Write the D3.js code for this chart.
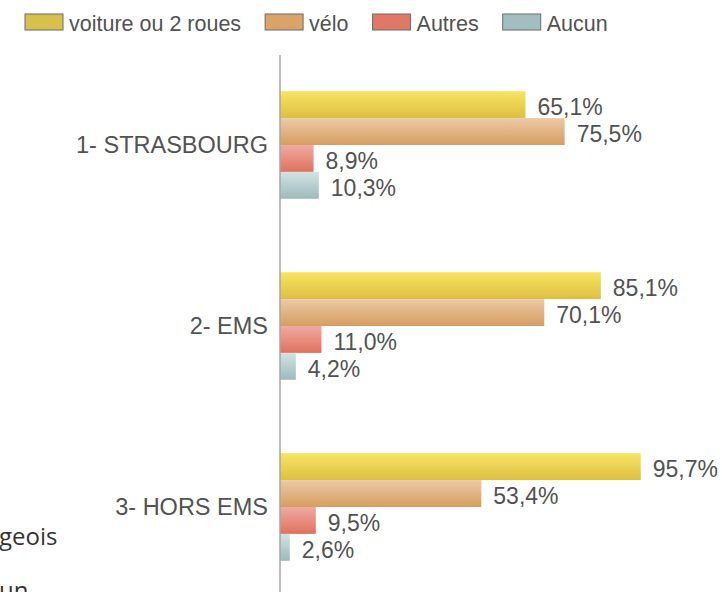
<!DOCTYPE html>
<html>
<head>
<meta charset="utf-8">
<script src="https://cdn.jsdelivr.net/npm/d3@7"></script>
<style>
  body { margin: 0; background: #fff; }
  svg { display: block; }
</style>
</head>
<body>
<svg id="chart" width="722" height="592"></svg>
<script>
// Data
var categories = ["1- STRASBOURG", "2- EMS", "3- HORS EMS"];
var series = ["voiture ou 2 roues", "vélo", "Autres", "Aucun"];
var values = {
  "voiture ou 2 roues": [65.1, 85.1, 95.7],
  "vélo": [75.5, 70.1, 53.4],
  "Autres": [8.9, 11.0, 9.5],
  "Aucun": [10.3, 4.2, 2.6]
};
// stray fragments cut off at the left edge of the original
var strayText = ["geois", "un"];

var colors = {
  "voiture ou 2 roues": {top: "#f9e462", bottom: "#dcbf42", flat: "#d8c04c"},
  "vélo": {top: "#ebcaa6", bottom: "#d79d60", flat: "#d9a469"},
  "Autres": {top: "#eeaba3", bottom: "#df725c", flat: "#e07866"},
  "Aucun": {top: "#d3e3e3", bottom: "#9dbabd", flat: "#a3bec0"}
};

function fmt(v) {
  return v.toFixed(1).replace(".", ",") + "%";
}

function renderChart() {
  var svg = d3.select("#chart");
  var textColor = "#525252";
  var font = "'Liberation Sans', Arial, sans-serif";

  var defs = svg.append("defs");
  series.forEach(function(s, i) {
    var grad = defs.append("linearGradient")
      .attr("id", "grad" + i)
      .attr("x1", 0).attr("y1", 0).attr("x2", 0).attr("y2", 1);
    grad.append("stop").attr("offset", "0%").attr("stop-color", colors[s].top);
    grad.append("stop").attr("offset", "100%").attr("stop-color", colors[s].bottom);
  });

  var x = d3.scaleLinear().domain([0, 100]).range([280, 657]);
  var y0 = d3.scaleBand().domain(categories).range([54.5, 597.5]);
  var y1 = d3.scaleBand().domain(series)
    .range([0, y0.bandwidth()])
    .paddingInner(0)
    .paddingOuter(1.365);

  var groups = svg.append("g").selectAll("g")
    .data(categories)
    .join("g")
    .attr("transform", function(c) { return "translate(0," + y0(c) + ")"; });

  series.forEach(function(s, si) {
    groups.append("rect")
      .attr("x", x(0))
      .attr("y", y1(s))
      .attr("width", function(c, ci) { return x(values[s][ci]) - x(0); })
      .attr("height", y1.bandwidth())
      .attr("fill", "url(#grad" + si + ")");

    groups.append("text")
      .attr("x", function(c, ci) { return x(values[s][ci]) + 12; })
      .attr("y", y1(s) + y1.bandwidth() / 2)
      .attr("dy", "0.47em")
      .attr("font-family", font)
      .attr("font-size", 23)
      .attr("fill", textColor)
      .text(function(c, ci) { return fmt(values[s][ci]); });
  });

  // category axis
  var yAxis = svg.append("g")
    .attr("transform", "translate(" + x(0) + ",0)")
    .call(d3.axisLeft(y0).tickSize(0).tickPadding(12));
  yAxis.select(".domain")
    .attr("d", "M0,55V600")
    .attr("stroke", "#a6a6a6")
    .attr("stroke-width", 1.5);
  yAxis.selectAll("text")
    .attr("font-family", font)
    .attr("font-size", 23.5)
    .attr("fill", textColor);

  // legend along the top
  var legend = svg.append("g").attr("transform", "translate(25,14)");
  var lx = 0;
  series.forEach(function(s) {
    var item = legend.append("g").attr("transform", "translate(" + lx + ",0)");
    item.append("rect")
      .attr("width", 38).attr("height", 16)
      .attr("fill", colors[s].flat)
      .attr("stroke", "#6b6b6b")
      .attr("stroke-width", 1);
    var t = item.append("text")
      .attr("x", 44).attr("y", 17)
      .attr("font-family", font)
      .attr("font-size", 21.5)
      .attr("fill", textColor)
      .text(s);
    lx += 44 + t.node().getComputedTextLength() + 24;
  });

  // leftover text from the page behind the chart
  svg.append("text")
    .attr("x", -1).attr("y", 545)
    .attr("font-family", "'Open Sans', sans-serif")
    .attr("font-size", 24)
    .attr("fill", "#333")
    .text(strayText[0]);
  svg.append("text")
    .attr("x", -1).attr("y", 599)
    .attr("font-family", "'Open Sans', sans-serif")
    .attr("font-size", 24)
    .attr("fill", "#333")
    .text(strayText[1]);
}

renderChart();
</script>
</body>
</html>
